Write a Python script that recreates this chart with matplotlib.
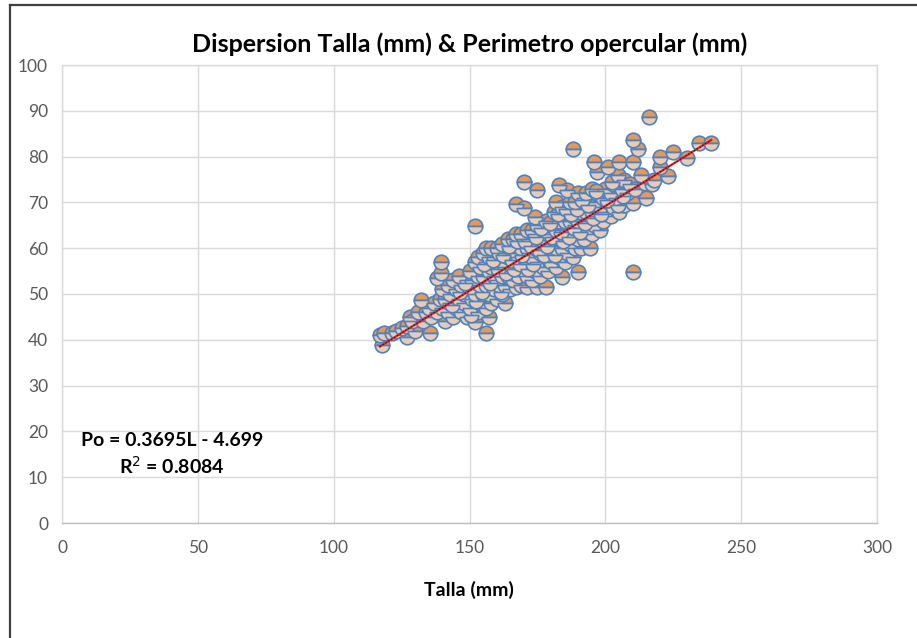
import matplotlib
matplotlib.use("Agg")
import matplotlib.pyplot as plt
from matplotlib.lines import Line2D
import numpy as np

# Data (Talla mm, Perimetro opercular mm)
talla = [117.8,117,118.5,121.5,123,125,127,127,128,129,130,131,132,133,134,135.5,135,136,137,138,139.5,139.5,138,139,140,140,141,141,142,142,143,143,144,144,145,145,146,146,147,147,148,148,149,149,150,150,150,151,151,152,152,152,152,153,153,153,154,154,154,155,155,155,156,156,156,156,156,157,157,157,157,158,158,158,158,159,159,159,160,160,160,160,161,161,161,162,162,162,162,163,163,163,163,164,164,164,165,165,165,166,166,166,167,167,167,167,167,168,168,168,169,169,169,169,170,170,170,170,170,171,171,171,171,171,172,172,172,173,173,173,173,174,174,174,174,175,175,175,175,175,176,176,176,177,177,177,178,178,178,178,179,179,179,180,180,180,181,181,181,182,182,182,182,183,183,183,183,184,184,184,184,185,185,185,186,186,186,186,187,187,187,188,188,188,188,189,189,189,190,190,190,190,191,191,191,192,192,192,193,193,193,194.4,194,194,195,195,195,196,196,196,197,197,197,198,198,199,199,200,200,201,201,202,202,203,203,204.7,204,205,205,206,207,207,208,209,210,210,210,210,211,212,213,214.6,215,216,217,218,220,220,223,225,230,234.5,239,
         143.5,146.5,148.5,150.5,152.5,154.5,155.5,157.5,158.5,160.5,161.5,162.5,163.5,164.5,165.5,166.5,167.5,168.5,169.5,170.5,171.5,172.5,173.5,174.5,175.5,176.5,177.5,178.5,179.5,180.5,181.5,182.5,183.5,184.5,185.5,186.5,187.5,188.5,189.5,190.5,191.5,192.5,193.5,195.5,196.5,198.5,200.5,202.5,204.5,206.5]
perimetro = [38.9,41,41.5,41.5,42,42.5,40.6,43,45,44,42,46,48.7,44,46,41.5,47,45,48,53.5,57,54.6,46,49,47,51,44,49,52,46,48,50,45,53,47,51,49,54,46,52,48,50,53,45,47,51,55,49,53,64.8,43.9,57,50,46,54,58,48,52,56,50,54,59,41.5,47,52,57,60,45,50,55,58,48,53,56,60,51,54,58,49,53,57,60,52,55,59,50,54,57,61,48,52,56,59,54,58,62,51,55,60,53,57,62,51.5,56,59,63,69.6,54,58,61,52,56,60,63,74.5,68.8,55,58,62,51.5,54,57,60,64,56,59,62,53,58,61,64,66.8,55,60,63,72.7,51.5,57,61,65,54,59,62,56,60,64,51.5,58,62,66,55,60,63,57,61,65,59,62,68,56,60,64,70,73.8,58,62,66,53.7,60,64,69,57,62,66,72.7,59,64,68,61,66,70,81.6,58,63,67,60,65,70,54.8,62,66,72,60,64,68,62,66,71,64,68,72,60,66,70,63,68,73,78.8,65,70,76.6,67,72,64,69,66,71,68,73,77.7,70,67,72,69,74,76,71,78.8,68,73,69.4,75,72,74,83.6,78.8,69.9,54.8,73,81.6,76,74.2,71,88.6,74,74.9,77.7,80,75.7,81,79.7,83,83,
             47.5,50.5,52.5,45.5,48.5,50.5,56.5,52.5,57.5,55.5,50.5,58.5,54.5,60.5,57.5,55.5,61.5,56.5,58.5,61.5,55.5,60.5,56.5,62.5,59.5,64.5,58.5,60.5,65.5,62.5,58.5,67.5,63.5,61.5,68.5,62.5,67.5,64.5,68.5,63.5,70.5,65.5,69.5,66.5,72.5,67.5,70.5,74.5,69.5,71.5]

slope = 0.3695
intercept = -4.699
x_ticks = [0, 50, 100, 150, 200, 250, 300]
y_ticks = [0, 10, 20, 30, 40, 50, 60, 70, 80, 90, 100]

plt.rcParams['font.family'] = ['Lato', 'DejaVu Sans']

fig = plt.figure(figsize=(9.17, 6.38), dpi=100)
ax = fig.add_axes([62/917, 1-523/638, (877-62)/917, (523-65)/638])

ax.set_xlim(0, 300)
ax.set_ylim(0, 100)
ax.set_xticks(x_ticks)
ax.set_yticks(y_ticks)
ax.grid(True, color='#D9D9D9', linewidth=1.0)
ax.set_axisbelow(True)
for s in ['top', 'right', 'left']:
    ax.spines[s].set_color('#D9D9D9')
    ax.spines[s].set_linewidth(1.0)
ax.spines['bottom'].set_color('#BFBFBF')
ax.spines['bottom'].set_linewidth(1.0)
ax.tick_params(axis='both', length=0, labelsize=12.5, colors='#595959')
ax.tick_params(axis='x', pad=12)
ax.tick_params(axis='y', pad=10)

ax.plot(talla, perimetro, linestyle='none', marker='o', markersize=10.5,
        fillstyle='top', markerfacecolor='#E2995C', markerfacecoloralt='#E6CBB8',
        markeredgecolor='#4F81BD', markeredgewidth=1.2, zorder=3)

xt = np.array([min(talla), max(talla)])
ax.plot(xt, slope*xt + intercept, color='#E02020', linewidth=1.6, zorder=4)
ax.plot(xt, slope*xt + intercept, color='#202020', linewidth=0.8,
        dashes=(1.2, 1.8), zorder=5)

fig.text(470/917, 1-44/638, 'Dispersion Talla (mm) & Perimetro opercular (mm)',
         ha='center', va='center', fontsize=18, fontweight='bold', color='black')
fig.text(469/917, 1-590/638, 'Talla (mm)', ha='center', va='center',
         fontsize=14, fontweight='bold', color='black')
ax.text(40.5, 18.1, 'Po = 0.3695L - 4.699', ha='center', va='center',
        fontsize=14, fontweight='bold', color='black')
ax.text(40.5, 12.4, 'R$^2$ = 0.8084', ha='center', va='center',
        fontsize=14, fontweight='bold', color='black')

fig.add_artist(Line2D([10/917, 1], [1-5/638, 1-5/638], color='#404040', linewidth=1.6,
                      transform=fig.transFigure))
fig.add_artist(Line2D([10/917, 10/917], [0, 1-5/638], color='#404040', linewidth=1.6,
                      transform=fig.transFigure))

fig.savefig('out.png', dpi=100)
